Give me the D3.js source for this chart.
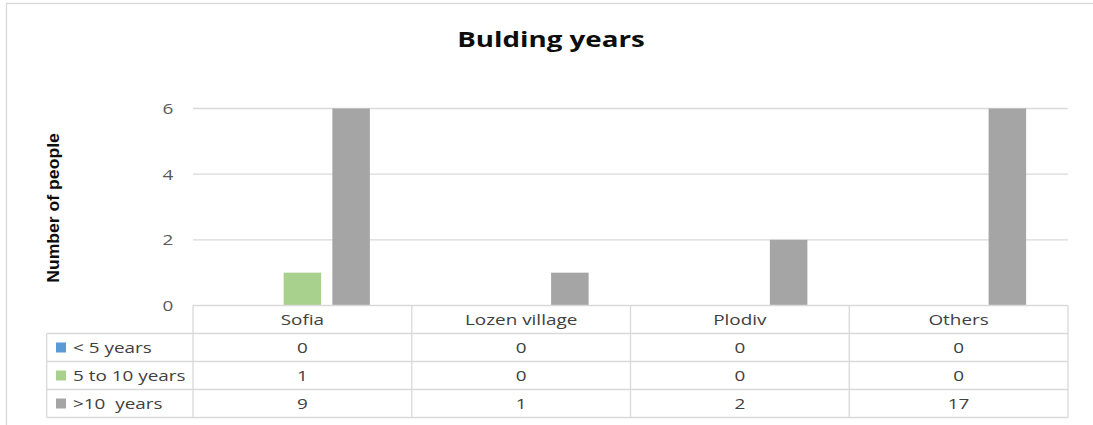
<!DOCTYPE html>
<html><head><meta charset="utf-8">
<script src="https://cdn.jsdelivr.net/npm/d3@7"></script>
<style>body{margin:0;background:#fff}svg{display:block}text{white-space:pre}</style>
</head><body>
<svg id="c" width="1093" height="425"></svg>
<script>
const categories = ["Sofia", "Lozen village", "Plodiv", "Others"];
const seriesNames = ["< 5 years", "5 to 10 years", ">10  years"];
const under5 = [0, 0, 0, 0];
const fiveTo10 = [1, 0, 0, 0];
const over10 = [9, 1, 2, 17];
const yTicks = [0, 2, 4, 6];
const colors = ["#5b9bd5", "#a9d18e", "#a5a5a5"];
const series = [under5, fiveTo10, over10];

const svg = d3.select("#c");
const FONT = "'Open Sans', sans-serif";
const x0 = 193, x1 = 1068, yTop = 108.5, yBot = 305.5;
const tableLeft = 46.7, rowH = 28, tableTop = 305.5;

// outer chart border
svg.append("rect").attr("x", 6.5).attr("y", 3.5).attr("width", 1200).attr("height", 600)
  .attr("fill", "none").attr("stroke", "#d9d9d9").attr("stroke-width", 1.3);

const x = d3.scaleBand().domain(categories).range([x0, x1]);
const y = d3.scaleLinear().domain([0, 6]).range([yBot, yTop]);
const inner = d3.scaleBand().domain(d3.range(series.length))
  .range([x.bandwidth() / 2 - 67.5, x.bandwidth() / 2 + 67.5]).paddingInner(0.23);

// gridlines
svg.append("g").selectAll("line").data(yTicks.filter(d => d > 0)).join("line")
  .attr("x1", x0).attr("x2", x1).attr("y1", d => y(d)).attr("y2", d => y(d))
  .attr("stroke", "#d9d9d9").attr("stroke-width", 1.3);

// y tick labels
svg.append("g").selectAll("text").data(yTicks).join("text")
  .attr("x", 168).attr("y", d => y(d)).attr("dy", "0.36em")
  .attr("text-anchor", "middle").attr("font-family", FONT).attr("font-size", 15)
  .attr("fill", "#595959").attr("class", "st").text(d => d);

// clip
svg.append("clipPath").attr("id", "pc").append("rect")
  .attr("x", x0).attr("y", yTop).attr("width", x1 - x0).attr("height", yBot - yTop);

const bars = svg.append("g").attr("clip-path", "url(#pc)");
series.forEach((vals, si) => {
  bars.append("g").selectAll("rect").data(vals).join("rect")
    .attr("x", (d, i) => x(categories[i]) + inner(si))
    .attr("width", inner.bandwidth())
    .attr("y", d => y(d))
    .attr("height", d => yBot - y(d))
    .attr("fill", colors[si]);
});

// title
svg.append("text").attr("x", 551).attr("y", 47).attr("text-anchor", "middle")
  .attr("font-family", FONT).attr("font-weight", "bold").attr("font-size", 22)
  .attr("fill", "#0d0d0d").attr("class", "st").text("Bulding years");

// y axis title
svg.append("text").attr("class", "yt").attr("transform", "translate(59,208) rotate(-90)")
  .attr("text-anchor", "middle").attr("font-family", "'Liberation Sans', Arial, sans-serif")
  .attr("font-weight", "bold").attr("font-size", 16).attr("fill", "#0d0d0d")
  .text("Number of people");

// table
const tg = svg.append("g");
const lineC = "#d9d9d9";
const rowsY = d3.range(series.length + 2).map(i => tableTop + i * rowH);
rowsY.forEach((yy, i) => {
  tg.append("line").attr("x1", i === 0 ? x0 : tableLeft).attr("x2", x1)
    .attr("y1", yy).attr("y2", yy).attr("stroke", lineC).attr("stroke-width", 1.3);
});
tg.append("line").attr("x1", tableLeft).attr("x2", tableLeft).attr("y1", rowsY[1]).attr("y2", rowsY[rowsY.length - 1])
  .attr("stroke", lineC).attr("stroke-width", 1.3);
categories.concat([null]).forEach((c) => {
  const xx = c ? x(c) : x1;
  tg.append("line").attr("x1", xx).attr("x2", xx).attr("y1", rowsY[0]).attr("y2", rowsY[rowsY.length - 1])
    .attr("stroke", lineC).attr("stroke-width", 1.3);
});
tg.selectAll("text.h").data(categories).join("text").attr("class", "h st")
  .attr("x", d => x(d) + x.bandwidth() / 2).attr("y", rowsY[0] + rowH / 2).attr("dy", "0.36em")
  .attr("text-anchor", "middle").attr("font-family", FONT).attr("font-size", 15).attr("fill", "#404040")
  .text(d => d);
series.forEach((vals, si) => {
  const cy = rowsY[si + 1] + rowH / 2;
  tg.append("rect").attr("x", 56).attr("y", cy - 5).attr("width", 10).attr("height", 10).attr("fill", colors[si]);
  tg.append("text").attr("class", "st").attr("x", 73).attr("y", cy).attr("dy", "0.36em")
    .attr("font-family", FONT).attr("font-size", 15).attr("fill", "#404040").text(seriesNames[si]);
  tg.selectAll(null).data(vals).join("text").attr("class", "st")
    .attr("x", (d, i) => x(categories[i]) + x.bandwidth() / 2).attr("y", cy).attr("dy", "0.36em")
    .attr("text-anchor", "middle").attr("font-family", FONT).attr("font-size", 15).attr("fill", "#404040")
    .text(d => d);
});

// horizontal stretch of the text to match the reference's wide rendering
const SX = 1.26, SXY = 1.1;
svg.selectAll("text.st").each(function () {
  const w = this.getComputedTextLength();
  d3.select(this).attr("textLength", w * SX).attr("lengthAdjust", "spacingAndGlyphs");
});
svg.selectAll("text.yt").each(function () {
  const w = this.getComputedTextLength();
  d3.select(this).attr("textLength", w * SXY).attr("lengthAdjust", "spacingAndGlyphs");
});
</script>
</body></html>
